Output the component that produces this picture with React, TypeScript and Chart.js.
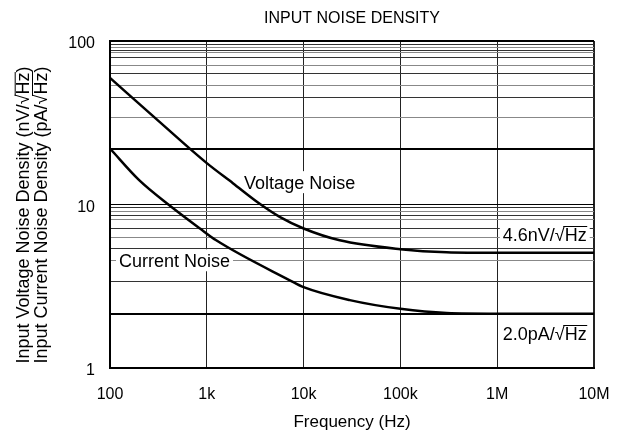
import React, { useEffect, useRef } from 'react';
import { Chart, registerables } from 'chart.js';

Chart.register(...registerables);

const chartTitle = 'INPUT NOISE DENSITY';
const xAxisTitle = 'Frequency (Hz)';
const yAxisTitleLines = [
  'Input Voltage Noise Density (nV/√Hz)',
  'Input Current Noise Density (pA/√Hz)',
];

// Voltage noise curve (nV/√Hz)
const voltageFreq = [100, 325, 1000, 1860, 3520, 5660, 10000, 23600, 100000, 300000, 1000000, 10000000];
const voltageNoise = [59.5, 32, 17.9, 13.5, 10.1, 8.4, 7.13, 6.04, 5.33, 5.1, 5.06, 5.06];

// Current noise curve (pA/√Hz)
const currentFreq = [100, 200, 410, 850, 1250, 7200, 10000, 30000, 100000, 300000, 1000000, 10000000];
const currentNoise = [22, 14.1, 9.9, 7.13, 6.04, 3.44, 3.12, 2.6, 2.3, 2.17, 2.15, 2.15];

const xTickValues = [100, 1000, 10000, 100000, 1000000, 10000000];
const xTickLabels = ['100', '1k', '10k', '100k', '1M', '10M'];
const yTickValues = [1, 10, 100];
const yTickLabels = ['1', '10', '100'];
const yGridValues = [
  2.15, 3.4, 4.56, 5.38, 6.25, 7.13, 8.09, 8.57, 9.1, 9.53,
  21.8, 34, 45, 53.8, 63.4, 71, 79, 84.8, 87.7, 91.8, 95.4,
];
const heavyGridValues = [2.15, 21.8];

const annotationTexts = ['Voltage Noise', 'Current Noise', '4.6nV/√Hz', '2.0pA/√Hz'];
const annotationFreq = [9100, 464, 3.1e6, 3.1e6];
const annotationValue = [13.7, 4.56, 6.58, 1.63];

const FAMILY = '"Liberation Sans", Arial, Helvetica, sans-serif';

function drawRadicalText(
  ctx: CanvasRenderingContext2D,
  text: string,
  x: number,
  baseline: number,
  font: string,
) {
  ctx.font = font;
  ctx.textAlign = 'left';
  ctx.textBaseline = 'alphabetic';
  const full = ctx.measureText(text).width;
  const sx = x - full / 2;
  ctx.fillText(text, sx, baseline);
  const i = text.indexOf('√');
  if (i >= 0) {
    const pre = ctx.measureText(text.slice(0, i)).width;
    const rad = ctx.measureText('√').width;
    const hz = ctx.measureText('Hz').width;
    const top = baseline - ctx.measureText('√').actualBoundingBoxAscent;
    ctx.beginPath();
    ctx.lineWidth = 1;
    ctx.strokeStyle = ctx.fillStyle as string;
    ctx.moveTo(sx + pre + rad * 0.85, Math.round(top) + 0.5);
    ctx.lineTo(sx + pre + rad + hz + 0.5, Math.round(top) + 0.5);
    ctx.stroke();
  }
  return full;
}

const textPlugin = {
  id: 'noiseText',
  beforeDatasetsDraw(chart: any) {
    const ctx: CanvasRenderingContext2D = chart.ctx;
    const xs = chart.scales.x;
    const ys = chart.scales.y;
    ctx.save();
    const font = `18px ${FAMILY}`;
    annotationTexts.forEach((t, i) => {
      const px = xs.getPixelForValue(annotationFreq[i]);
      const py = ys.getPixelForValue(annotationValue[i]);
      ctx.font = font;
      const w = ctx.measureText(t).width;
      ctx.fillStyle = '#fff';
      ctx.fillRect(px - w / 2 - 3, py - 11, w + 6, 22);
      ctx.fillStyle = '#000';
      drawRadicalText(ctx, t, px, py + 6.5, font);
    });
    ctx.restore();
  },
  afterDraw(chart: any) {
    const ctx: CanvasRenderingContext2D = chart.ctx;
    const area = chart.chartArea;
    ctx.save();
    ctx.fillStyle = '#000';
    ctx.font = `16px ${FAMILY}`;
    ctx.textAlign = 'center';
    ctx.textBaseline = 'middle';
    ctx.fillText(chartTitle, (area.left + area.right) / 2, 19);

    const centers = [22.7, 40];
    yAxisTitleLines.forEach((t, i) => {
      ctx.save();
      ctx.translate(centers[i], 215);
      ctx.rotate(-Math.PI / 2);
      drawRadicalText(ctx, t, 0, 6.5, `18px ${FAMILY}`);
      ctx.restore();
    });
    ctx.restore();
  },
};

export default function App() {
  const ref = useRef<HTMLCanvasElement>(null);
  useEffect(() => {
    document.body.style.margin = '0';
    const canvas = ref.current!;
    const chart = new Chart(canvas, {
      type: 'line',
      data: {
        datasets: [
          {
            label: 'Voltage Noise',
            data: voltageFreq.map((f, i) => ({ x: f, y: voltageNoise[i] })),
            borderColor: '#000',
            borderWidth: 2.5,
            pointRadius: 0,
            fill: false,
            cubicInterpolationMode: 'monotone',
          },
          {
            label: 'Current Noise',
            data: currentFreq.map((f, i) => ({ x: f, y: currentNoise[i] })),
            borderColor: '#000',
            borderWidth: 2.5,
            pointRadius: 0,
            fill: false,
            cubicInterpolationMode: 'monotone',
          },
        ],
      },
      options: {
        responsive: false,
        animation: false,
        devicePixelRatio: 1,
        layout: { padding: { top: 41, right: 27, left: 0, bottom: 0 } },
        plugins: {
          legend: { display: false },
          tooltip: { enabled: false },
          title: { display: false },
        },
        scales: {
          x: {
            type: 'logarithmic',
            min: 100,
            max: 10000000,
            afterBuildTicks: (s: any) => {
              s.ticks = xTickValues.map((v) => ({ value: v }));
            },
            afterFit: (s: any) => {
              s.height = 66;
              s.paddingLeft = 0;
              s.paddingRight = 0;
            },
            ticks: {
              autoSkip: false,
              maxRotation: 0,
              color: '#000',
              padding: 17,
              font: { family: FAMILY, size: 16 },
              callback: (v: any) => {
                const i = xTickValues.indexOf(Number(v));
                return i >= 0 ? xTickLabels[i] : '';
              },
            },
            grid: {
              drawTicks: false,
              color: '#222',
              lineWidth: (c: any) => (c.tick && c.tick.value === 10000000 ? 2 : 1),
            },
            border: { color: '#000', width: 2 },
            title: {
              display: true,
              text: xAxisTitle,
              color: '#000',
              font: { family: FAMILY, size: 17 },
              padding: { top: 0, bottom: 1 },
            },
          },
          y: {
            type: 'logarithmic',
            min: 1,
            max: 100,
            afterBuildTicks: (s: any) => {
              const vals = [...yTickValues, ...yGridValues].sort((a, b) => a - b);
              s.ticks = vals.map((v) => ({ value: v }));
            },
            afterFit: (s: any) => {
              s.width = 110;
              s.paddingTop = 0;
              s.paddingBottom = 0;
            },
            ticks: {
              autoSkip: false,
              color: '#000',
              padding: 15,
              labelOffset: 3,
              font: { family: FAMILY, size: 16 },
              callback: (v: any) => {
                const i = yTickValues.indexOf(Number(v));
                return i >= 0 ? yTickLabels[i] : '';
              },
            },
            grid: {
              drawTicks: false,
              color: (c: any) => {
                const v = c.tick ? c.tick.value : 0;
                if (yTickValues.includes(v) || heavyGridValues.includes(v)) return '#000';
                return c.index % 2 === 0 ? '#333' : '#888';
              },
              lineWidth: (c: any) => {
                const v = c.tick ? c.tick.value : 0;
                if (v === 100 || heavyGridValues.includes(v)) return 2;
                return 1;
              },
            },
            border: { color: '#000', width: 2 },
          },
        },
      } as any,
      plugins: [textPlugin],
    });
    return () => chart.destroy();
  }, []);
  return (
    <div style={{ position: 'absolute', left: 0, top: 0, width: 621, height: 434, background: '#fff' }}>
      <canvas ref={ref} width={621} height={434} style={{ width: 621, height: 434 }} />
    </div>
  );
}
